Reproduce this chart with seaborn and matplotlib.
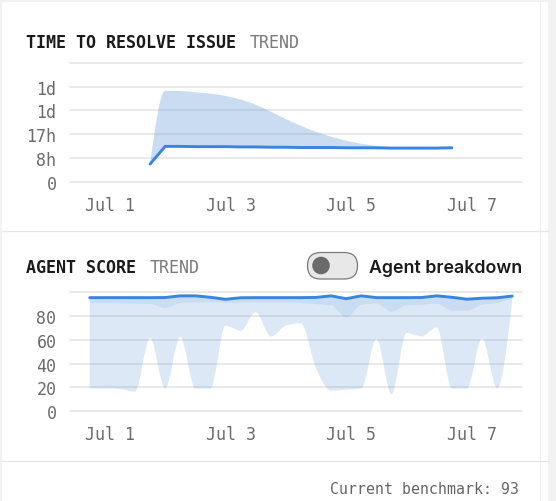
import matplotlib; matplotlib.use("Agg")
import numpy as np
import pandas as pd
import matplotlib.pyplot as plt
import matplotlib.dates as mdates
from matplotlib.path import Path
from matplotlib.patches import PathPatch, FancyBboxPatch, Circle, Rectangle
import seaborn as sns

# --- time to resolve issue (hours), every 6h from Jul 1 16:00
RESOLVE_START = "2024-07-01 16:00"
resolve_median = [6.2, 12.4, 12.4, 12.3, 12.3, 12.3, 12.2, 12.2, 12.1, 12.1, 12.0,
                  12.0, 12.0, 11.9, 11.9, 11.9, 11.8, 11.8, 11.8, 11.8, 11.9]
resolve_upper = [6.2, 31.9, 31.8, 31.4, 30.9, 30.1, 28.8, 27.0, 24.6, 22.0, 19.6,
                 17.5, 15.8, 14.4, 13.3, 12.6, 12.1, 11.9, 11.8, 11.8, 11.9]
resolve_ticks = [0, 25 / 3, 50 / 3, 25, 100 / 3, 125 / 3]
resolve_ticklabels = ["0", "8h", "17h", "1d", "1d", ""]

# --- agent score, every 6h from Jun 30 16:00
SCORE_START = "2024-06-30 16:00"
score_median = [95.5, 95.5, 95.5, 95.5, 95.5, 95.6, 97.0, 97.0, 95.8, 94.1, 95.4, 95.5,
                95.5, 95.5, 95.5, 95.7, 97.0, 94.6, 97.0, 95.5, 95.5, 95.5, 95.6, 97.0,
                95.8, 94.2, 95.0, 95.4, 96.8]
score_p25 = [91.0, 91.0, 90.8, 90.5, 90.2, 86.8, 90.8, 91.5, 91.5, 91.3, 91.3, 91.5,
             91.5, 91.5, 91.0, 90.0, 89.0, 78.9, 89.5, 90.5, 83.7, 89.0, 89.5, 90.5,
             84.5, 84.5, 89.5, 91.0, 94.5]
score_p10 = [19.0, 19.0, 18.5, 16.3, 61.5, 19.0, 62.6, 19.0, 19.0, 71.9, 67.6, 83.2,
             62.9, 71.9, 74.0, 36.0, 17.0, 18.0, 19.0, 60.7, 14.3, 65.7, 62.9, 70.5,
             19.0, 19.0, 61.2, 19.0, 93.0]
score_ticks = [0, 20, 40, 60, 80, 100]
score_ticklabels = ["0", "20", "40", "60", "80", ""]

XTICK_DATES = ["2024-07-01", "2024-07-03", "2024-07-05", "2024-07-07"]
XTICK_LABELS = ["Jul 1", "Jul 3", "Jul 5", "Jul 7"]
BENCHMARK = 93

BLUE = "#3884de"
BAND = "#528ed4"
GRID = "#e3e3e3"
TICK = "#6b6b6b"


def mono_bezier(x, y):
    """monotone-x curve (as in d3) expressed as cubic bezier vertices"""
    x = np.asarray(x, float); y = np.asarray(y, float)
    h = np.diff(x); s = np.diff(y) / h
    t = np.zeros(len(x))
    for i in range(1, len(x) - 1):
        p = (s[i - 1] * h[i] + s[i] * h[i - 1]) / (h[i - 1] + h[i])
        t[i] = (np.sign(s[i - 1]) + np.sign(s[i])) * min(abs(s[i - 1]), abs(s[i]), 0.5 * abs(p))
    t[0] = (3 * s[0] - t[1]) / 2
    t[-1] = (3 * s[-1] - t[-2]) / 2
    verts = [(x[0], y[0])]
    for i in range(len(x) - 1):
        d = h[i] / 3
        verts += [(x[i] + d, y[i] + d * t[i]), (x[i + 1] - d, y[i + 1] - d * t[i + 1]),
                  (x[i + 1], y[i + 1])]
    return verts


def band(ax, x, lo, hi, curved_lo, **kw):
    if curved_lo:
        top = list(zip(x, hi)); top_c = [Path.MOVETO] + [Path.LINETO] * (len(top) - 1)
        bot = mono_bezier(x, lo)[::-1]; bot_c = [Path.LINETO] + [Path.CURVE4] * (len(bot) - 1)
    else:
        top = mono_bezier(x, hi); top_c = [Path.MOVETO] + [Path.CURVE4] * (len(top) - 1)
        bot = list(zip(x, lo))[::-1]; bot_c = [Path.LINETO] * len(bot)
    verts = top + bot + [top[0]]
    codes = top_c + bot_c + [Path.CLOSEPOLY]
    ax.add_patch(PathPatch(Path(verts, codes), lw=0, **kw))


def style_axis(ax, ticks, labels):
    ax.set_xlim(mdates.date2num(pd.Timestamp("2024-06-30 08:00")),
                mdates.date2num(pd.Timestamp("2024-07-07 20:00")))
    ax.set_ylim(ticks[0], ticks[-1])
    ax.set_yticks(ticks); ax.set_yticklabels(labels)
    ax.set_xticks(mdates.date2num(pd.to_datetime(XTICK_DATES)))
    ax.set_xticklabels(XTICK_LABELS)
    ax.grid(False)
    for t in ticks:
        ax.axhline(t, color=GRID, lw=1.1, zorder=0, clip_on=False)
    sns.despine(ax=ax, left=True, bottom=True)
    ax.tick_params(axis="x", length=0, pad=10, labelsize=12, labelcolor=TICK)
    ax.tick_params(axis="y", length=0, pad=9.5, labelsize=12, labelcolor=TICK)
    ax.set_xlabel(""); ax.set_ylabel("")
    ax.set_facecolor("none")


sns.set_theme(style="white")
plt.rcParams["font.family"] = ["DejaVu Sans Mono"]

fig = plt.figure(figsize=(5.56, 5.02), dpi=100, facecolor="white")
px = fig.dpi_scale_trans

def P(x, y):  # pixel (from top-left) -> inches
    return x / 100, (502 - y) / 100

# page chrome
for (x0, y0, w, h) in [(0, 0, 556, 3), (0, 0, 2, 502), (548, 0, 8, 502)]:
    fig.patches.append(Rectangle(P(x0, y0 + h), w / 100, h / 100, transform=px,
                                 color="#f2f2f2", lw=0, zorder=0))
fig.add_artist(plt.Line2D([5.395, 5.395], [0, 4.99], transform=px, color="#eeeeee", lw=0.8))
for y in (232, 461.5):
    fig.add_artist(plt.Line2D([0.02, 5.48], [(502 - y) / 100] * 2, transform=px,
                              color="#e6e6e6", lw=0.9))

# ---- top: time to resolve
ax1 = fig.add_axes([69.6 / 556, 1 - 182.7 / 502, 452.7 / 556, 118.7 / 502])
rx = mdates.date2num(pd.date_range(RESOLVE_START, periods=len(resolve_median), freq="6h"))
band(ax1, rx, resolve_median, resolve_upper, curved_lo=False, color=BAND, alpha=0.3, zorder=1)
sns.lineplot(x=rx, y=resolve_median, ax=ax1, color=BLUE, lw=2.1, zorder=3,
             solid_capstyle="round")
style_axis(ax1, resolve_ticks, resolve_ticklabels)

# ---- bottom: agent score
ax2 = fig.add_axes([69.6 / 556, 1 - 412 / 502, 452.7 / 556, 118.7 / 502])
sx = mdates.date2num(pd.date_range(SCORE_START, periods=len(score_median), freq="6h"))
band(ax2, sx, score_p10, score_median, curved_lo=True, color=BAND, alpha=0.2, zorder=1)
band(ax2, sx, score_p25, score_median, curved_lo=True, color=BAND, alpha=0.13, zorder=2)
sns.lineplot(x=sx, y=score_median, ax=ax2, color=BLUE, lw=2.1, zorder=3,
             solid_capstyle="round")
style_axis(ax2, score_ticks, score_ticklabels)

# ---- titles
fig.text(*P(26.5, 41), "TIME TO RESOLVE ISSUE", transform=px, fontsize=12,
         fontweight="bold", color="#1a1a1a", va="center_baseline")
fig.text(*P(250, 41), "TREND", transform=px, fontsize=12, color="#7a7a7a",
         va="center_baseline")
fig.text(*P(26.5, 266.5), "AGENT SCORE", transform=px, fontsize=12,
         fontweight="bold", color="#1a1a1a", va="center_baseline")
fig.text(*P(149.5, 266.5), "TREND", transform=px, fontsize=12, color="#7a7a7a",
         va="center_baseline")

# toggle + label
fig.patches.append(FancyBboxPatch(P(307.5, 280), 0.50, 0.265,
                                  boxstyle="round,pad=0,rounding_size=0.1325",
                                  transform=px, fc="#e8e8e8", ec="#7a7a7a", lw=0.9))
fig.patches.append(Circle(P(321, 266.5), 0.088, transform=px, fc="#6b6b6b", lw=0))
fig.text(*P(369, 266.5), "Agent breakdown", transform=px, fontsize=12.8,
         family=["Inter", "DejaVu Sans"], fontweight="semibold", color="#1a1a1a",
         va="center_baseline")

fig.text(*P(519.5, 488), f"Current benchmark: {BENCHMARK}", transform=px, fontsize=10.7,
         color="#666666", ha="right", va="center_baseline")

fig.savefig("out.png", dpi=100, facecolor="white")
